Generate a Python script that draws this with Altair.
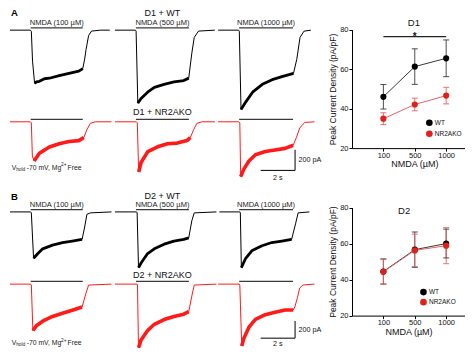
import altair as alt
import pandas as pd

FONT = "Liberation Sans"
BLACK = "#000000"
RED = "#ff1a1a"

CONC = ["100", "500", "1000"]
GROUPS = ["WT", "NR2AKO"]

# ---- whole-cell traces: (time s from sweep start, current pA) ----
D1_WT_100 = [(0, 0), (1.18, 0), (1.24, -10), (1.31, -300), (1.43, -515), (1.54, -500), (1.71, -495), (2.0, -470), (2.29, -465), (2.86, -440), (3.43, -418), (4.0, -397), (4.23, -372), (4.34, -280), (4.42, -188), (4.57, -52), (4.74, -9), (5.26, 0), (5.8, 0)]
D1_WT_500 = [(0, 0), (1.19, 0), (1.23, -10), (1.33, -706), (1.52, -661), (1.90, -600), (2.29, -554), (2.86, -524), (3.43, -500), (4.0, -488), (4.29, -464), (4.47, -222), (4.61, -70), (4.86, -9), (5.81, 0)]
D1_WT_1000 = [(0, 0), (1.19, 0), (1.23, -10), (1.33, -767), (1.62, -691), (2.0, -600), (2.57, -524), (3.14, -479), (3.71, -449), (4.38, -418), (4.57, -282), (4.76, -70), (4.99, -10), (5.39, 0)]
D1_KO_100 = [(0, 0), (1.18, 0), (1.24, -10), (1.3, -330), (1.4, -379), (1.71, -304), (2.29, -243), (2.86, -213), (3.43, -191), (4.0, -182), (4.29, -152), (4.47, -76), (4.67, -15), (4.95, 0), (5.9, 0)]
D1_KO_500 = [(0, 0), (1.25, 0), (1.30, -10), (1.38, -485), (1.52, -394), (1.91, -288), (2.48, -242), (3.05, -212), (3.62, -206), (4.19, -182), (4.38, -152), (4.58, -75), (4.76, -15), (5.05, 0), (5.81, 0)]
D1_KO_1000 = [(0, 0), (1.2, 0), (1.26, -10), (1.31, -530), (1.5, -455), (1.79, -379), (2.17, -318), (2.74, -288), (3.31, -273), (3.89, -257), (4.36, -227), (4.55, -152), (4.74, -61), (5.03, -6), (5.6, 0)]
D2_WT_100 = [(0, 0), (1.2, 0), (1.24, -10), (1.37, -539), (1.62, -484), (1.90, -429), (2.47, -386), (3.05, -356), (3.62, -339), (4.19, -320), (4.34, -175), (4.47, -28), (4.67, -11), (5.9, 0)]
D2_WT_500 = [(0, 0), (1.26, 0), (1.29, -10), (1.37, -648), (1.52, -594), (1.90, -484), (2.29, -429), (2.86, -375), (3.43, -339), (4.0, -320), (4.29, -302), (4.47, -102), (4.61, -11), (5.9, 0)]
D2_WT_1000 = [(0.07, 0), (1.26, 0), (1.29, -10), (1.35, -648), (1.6, -539), (1.98, -448), (2.55, -393), (3.12, -356), (3.7, -339), (4.27, -320), (4.5, -138), (4.65, -11), (5.3, 0)]
D2_KO_100 = [(0, 0), (1.2, 0), (1.24, -10), (1.33, -540), (1.53, -485), (1.90, -431), (2.47, -376), (3.05, -339), (3.62, -303), (4.19, -267), (4.42, -103), (4.57, -11), (5.9, 0)]
D2_KO_500 = [(0, 0), (1.28, 0), (1.31, -10), (1.37, -740), (1.52, -649), (1.90, -540), (2.29, -467), (2.86, -412), (3.43, -376), (4.0, -350), (4.29, -321), (4.47, -139), (4.61, -11), (5.9, 0)]
D2_KO_1000 = [(0, 0), (1.22, 0), (1.26, -10), (1.37, -719), (1.5, -628), (1.79, -501), (2.17, -410), (2.74, -355), (3.31, -326), (3.89, -301), (4.36, -301), (4.46, -265), (4.61, -155), (4.74, -46), (4.93, -10), (5.6, 0)]

NMDA_ON = [1.20, 1.22, 1.22]     # s, per concentration column
NMDA_OFF = [4.23, 4.30, 4.35]
SCALE_T = 2      # s
SCALE_I = 200    # pA

# ---- peak current density (pA/pF), mean and SEM ----
D1_WT_MEAN = [46.0, 61.3, 65.5]
D1_WT_SEM = [6.2, 9.0, 9.3]
D1_KO_MEAN = [34.9, 42.1, 46.6]
D1_KO_SEM = [3.0, 3.2, 4.2]
D2_WT_MEAN = [44.5, 56.6, 60.0]
D2_WT_SEM = [7.0, 9.8, 8.0]
D2_KO_MEAN = [44.3, 56.2, 58.8]
D2_KO_SEM = [6.8, 9.0, 10.0]
SIG_SPAN = [1, 3]     # 100 .. 1000
SIG_Y = 76.5

# ---- layout ----
SX, SY = 0.983, 0.94
PX_PER_S = 17.5
LEFT_W = 312
RIGHT_W = 113
COL_START = [0.0, 6.1, 12.1]

PANEL_A = dict(name="D1", letter="A", top=0, bottom=186, pa_px=200 / 22.0,
               base=[22.5, 120.0], bar=[20.0, 117.5], letter_y=7.5,
               title_y=[7.5, 113.0], nmda_y=15.0, vhold_y=169.0, sb=(290, 171.7),
               sb_t_y=180.0)
PANEL_B = dict(name="D2", letter="B", top=186, bottom=363, pa_px=200 / 18.3,
               base=[215.7, 292.5], bar=[213.3, 289.5], letter_y=203.5,
               title_y=[201.7, 286.5], nmda_y=208.7, vhold_y=355.5, sb=(290, 350),
               sb_t_y=356.0)


def trace_panel(traces, P):
    top, bottom, k = P["top"], P["bottom"], P["pa_px"]

    def ty(ry):
        return -(ry - top) * k

    def tx(rx):
        return rx / PX_PER_S

    H = (bottom - top) * SY
    xs = alt.Scale(domain=[0, LEFT_W / SX / PX_PER_S], nice=False, zero=False)
    ys = alt.Scale(domain=[ty(bottom), 0], nice=False, zero=False)
    X = lambda f="t": alt.X(f"{f}:Q", scale=xs, axis=None)
    Y = lambda f="I": alt.Y(f"{f}:Q", scale=ys, axis=None)

    recs = []
    for r, grp in enumerate(GROUPS):
        for c, pts in enumerate(traces[grp]):
            t_peak = min(pts, key=lambda p: p[1])[0]
            for n, (t, i) in enumerate(pts):
                recs.append({"trace": f"{grp}-{CONC[c]}", "grp": grp,
                             "t": COL_START[c] + t, "I": ty(P["base"][r]) + i, "ord": n,
                             "noisy": bool(t_peak <= t <= NMDA_OFF[c] + 0.1)})
    tr = pd.DataFrame(recs)
    col = alt.Color("grp:N", scale=alt.Scale(domain=GROUPS, range=[BLACK, RED]), legend=None)
    thin = alt.Chart(tr).mark_line(strokeWidth=1).encode(
        x=X(), y=Y(), color=col, detail="trace:N", order="ord:Q")
    band = alt.Chart(tr).transform_filter("datum.noisy").mark_line(strokeJoin="round").encode(
        x=X(), y=Y(), color=col, detail="trace:N", order="ord:Q",
        size=alt.Size("grp:N", scale=alt.Scale(domain=GROUPS, range=[2.8, 3.6]), legend=None))

    bars = pd.DataFrame([{"t": COL_START[c] + NMDA_ON[c], "t2": COL_START[c] + NMDA_OFF[c],
                          "I": ty(P["bar"][r])} for r in range(2) for c in range(3)])
    bar_l = alt.Chart(bars).mark_rule(color="#3a3a3a", strokeWidth=1.2).encode(
        x=X(), x2="t2:Q", y=Y())

    nm = pd.DataFrame([{"t": COL_START[c] + (NMDA_ON[c] + NMDA_OFF[c]) / 2, "I": ty(P["nmda_y"]),
                        "label": f"NMDA ({CONC[c]} µM)"} for c in range(3)])
    nm_l = alt.Chart(nm).mark_text(fontSize=7.5, color="#222", baseline="middle").encode(
        x=X(), y=Y(), text="label:N")

    mid = COL_START[1] + (NMDA_ON[1] + NMDA_OFF[1]) / 2
    tt = pd.DataFrame([{"t": mid, "I": ty(P["title_y"][r]), "label": f"{P['name']} + {g}"}
                       for r, g in enumerate(GROUPS)])
    tt_l = alt.Chart(tt).mark_text(fontSize=9, color="#111", baseline="alphabetic").encode(
        x=X(), y=Y(), text="label:N")

    let = pd.DataFrame([{"t": tx(1), "I": ty(P["letter_y"]), "label": P["letter"]}])
    let_l = alt.Chart(let).mark_text(fontSize=9.5, fontWeight="bold", align="left",
                                     baseline="alphabetic").encode(x=X(), y=Y(), text="label:N")

    vy = P["vhold_y"]
    vh = pd.DataFrame([
        {"t": tx(1.7), "I": ty(vy), "label": "V", "fs": 6.8},
        {"t": tx(6.3), "I": ty(vy + 1.8), "label": "hold", "fs": 4.8},
        {"t": tx(17.0), "I": ty(vy), "label": "-70 mV, Mg", "fs": 6.8},
        {"t": tx(52.0), "I": ty(vy - 2.6), "label": "2+", "fs": 4.8},
        {"t": tx(58.5), "I": ty(vy), "label": "Free", "fs": 6.8},
    ])
    vh_l = alt.Chart(vh).mark_text(align="left", baseline="middle", color="#222").encode(
        x=X(), y=Y(), text="label:N", size=alt.Size("fs:Q", scale=None))

    cx, cy = P["sb"]
    sb = pd.DataFrame([
        {"t": tx(cx) - SCALE_T, "t2": tx(cx), "I": ty(cy), "I2": ty(cy)},
        {"t": tx(cx), "t2": tx(cx), "I": ty(cy), "I2": ty(cy) + SCALE_I},
    ])
    sb_l = alt.Chart(sb).mark_rule(color=BLACK, strokeWidth=1).encode(
        x=X(), x2="t2:Q", y=Y(), y2="I2:Q")
    sbt = pd.DataFrame([
        {"t": tx(cx + 3.5), "I": ty(cy) + SCALE_I / 2, "label": f"{SCALE_I} pA", "al": "l"},
        {"t": tx(cx) - SCALE_T / 2, "I": ty(P["sb_t_y"]), "label": f"{SCALE_T} s", "al": "c"},
    ])
    sbt_l1 = alt.Chart(sbt).transform_filter("datum.al == 'l'").mark_text(
        fontSize=7.2, align="left", baseline="middle", color="#111").encode(x=X(), y=Y(), text="label:N")
    sbt_l2 = alt.Chart(sbt).transform_filter("datum.al == 'c'").mark_text(
        fontSize=7.2, align="center", baseline="middle", color="#111").encode(x=X(), y=Y(), text="label:N")

    return alt.layer(thin, band, bar_l, nm_l, tt_l, let_l, vh_l, sb_l, sbt_l1, sbt_l2).properties(
        width=LEFT_W, height=H)


LABEL_EXPR = " : ".join(f"datum.value == {i + 1} ? '{c}'" for i, c in enumerate(CONC[:-1])) + f" : '{CONC[-1]}'"
POINT_SCALE = alt.Scale(domain=GROUPS, range=["#000000", "#e0201b"])


def dose_chart(title, wt_m, wt_s, ko_m, ko_s, top, y80, y20, title_px, legend_px, legend_step,
               xtitle_x=None, sig=False):
    df = pd.DataFrame({
        "pos": [1, 2, 3] * 2,
        "grp": ["WT"] * 3 + ["NR2AKO"] * 3,
        "mean": wt_m + ko_m,
        "sem": wt_s + ko_s,
    })
    df["lo"] = df["mean"] - df["sem"]
    df["hi"] = df["mean"] + df["sem"]
    H = (y20 - top) * SY
    xs = alt.Scale(domain=[0, 3.6], nice=False, zero=False)
    ys = alt.Scale(domain=[20, 80], range=[H, (y80 - top) * SY], nice=False, zero=False)
    xa = dict(values=[1, 2, 3], labelExpr=LABEL_EXPR, title="NMDA (µM)", grid=False,
              domainColor=BLACK, tickColor=BLACK, tickSize=3, labelFontSize=7.5, labelColor="#111",
              labelPadding=0, titleFontSize=9, titleFontWeight="normal", titleColor="#111",
              titlePadding=1)
    if xtitle_x is not None:
        xa["titleX"] = xtitle_x
    ya = dict(values=list(range(20, 81, 10)), title="Peak Current Density (pA/pF)", grid=False,
              domainColor=BLACK, tickColor=BLACK, tickSize=3, labelFontSize=7.5, labelColor="#111",
              labelPadding=1, titleFontSize=8.5, titleFontWeight="normal", titleColor="#111",
              titlePadding=2)
    X = lambda: alt.X("pos:Q", scale=xs, axis=alt.Axis(**xa))
    stroke = alt.Stroke("grp:N", scale=alt.Scale(domain=GROUPS, range=["#3a3a3a", "#e26464"]), legend=None)
    color = alt.Color("grp:N", scale=POINT_SCALE, legend=None)
    base = alt.Chart(df)
    err = base.mark_rule(strokeWidth=0.9).encode(
        x=X(), y=alt.Y("lo:Q", scale=ys, axis=alt.Axis(**ya)), y2="hi:Q", stroke=stroke)
    caps = base.transform_fold(["lo", "hi"], as_=["end", "v"]).mark_rule(
        strokeWidth=0.9, xOffset=-3, x2Offset=3).encode(
        x=X(), x2="pos:Q", y=alt.Y("v:Q", scale=ys), stroke=stroke)
    line = base.mark_line(strokeWidth=1).encode(
        x=X(), y=alt.Y("mean:Q", scale=ys), stroke=stroke, detail="grp:N")
    pts = base.mark_circle(size=38, opacity=1).encode(
        x=X(), y=alt.Y("mean:Q", scale=ys), color=color)
    tdf = pd.DataFrame({"label": [title]})
    ttl = alt.Chart(tdf).mark_text(fontSize=9.5, color="#111", baseline="middle").encode(
        x=alt.value(title_px[0]), y=alt.value(title_px[1]), text="label:N")
    layers = [err, caps, line, pts, ttl]
    # legend (symbol + label per group)
    lx, ly = legend_px
    for j, g in enumerate(GROUPS):
        ldf = pd.DataFrame({"grp": [g], "label": [g]})
        layers.append(alt.Chart(ldf).mark_circle(size=44, opacity=1).encode(
            x=alt.value(lx), y=alt.value(ly + j * legend_step), color=color))
        layers.append(alt.Chart(ldf).mark_text(fontSize=6.5, align="left", baseline="middle",
                                               color="#111").encode(
            x=alt.value(lx + 5.5), y=alt.value(ly + j * legend_step), text="label:N"))
    if sig:
        sdf = pd.DataFrame({"a": [SIG_SPAN[0]], "b": [SIG_SPAN[1]], "m": [sum(SIG_SPAN) / 2],
                            "y": [SIG_Y], "s": ["*"]})
        layers.append(alt.Chart(sdf).mark_rule(color="#222", strokeWidth=1.3).encode(
            x=alt.X("a:Q", scale=xs), x2="b:Q", y=alt.Y("y:Q", scale=ys)))
        layers.append(alt.Chart(sdf).mark_text(fontSize=10, fontWeight="bold", dy=3,
                                               baseline="alphabetic", color="#111").encode(
            x=alt.X("m:Q", scale=xs), y=alt.Y("y:Q", scale=ys), text="s:N"))
    return alt.layer(*layers).properties(width=RIGHT_W, height=H)


panel_a = trace_panel({"WT": [D1_WT_100, D1_WT_500, D1_WT_1000],
                       "NR2AKO": [D1_KO_100, D1_KO_500, D1_KO_1000]}, PANEL_A)
panel_b = trace_panel({"WT": [D2_WT_100, D2_WT_500, D2_WT_1000],
                       "NR2AKO": [D2_KO_100, D2_KO_500, D2_KO_1000]}, PANEL_B)


def lp(rx, ry, top):
    return ((rx - 348) * SX, (ry - top) * SY)


chart1 = dose_chart("D1", D1_WT_MEAN, D1_WT_SEM, D1_KO_MEAN, D1_KO_SEM,
                    top=0, y80=22, y20=148,
                    title_px=((411 - 348) * SX, 15 * SY),
                    legend_px=lp(426.7, 121, 0), legend_step=11.7 * SY,
                    xtitle_x=(411.5 - 348) * SX, sig=True)
chart2 = dose_chart("D2", D2_WT_MEAN, D2_WT_SEM, D2_KO_MEAN, D2_KO_SEM,
                    top=186, y80=211, y20=326,
                    title_px=((401 - 348) * SX, (215 - 186) * SY),
                    legend_px=lp(420.7, 301, 186), legend_step=10.7 * SY)

chart = alt.concat(panel_a, chart1, panel_b, chart2, columns=2,
                   spacing=alt.RowColnumber(row=0, column=30), bounds="flush").resolve_scale(
    color="independent", stroke="independent", size="independent", x="independent", y="independent"
).resolve_legend(color="independent", stroke="independent", size="independent").properties(
    padding=0
).configure(font=FONT).configure_view(stroke=None)

chart.save("out.html", embed_options={"renderer": "svg", "actions": False})
